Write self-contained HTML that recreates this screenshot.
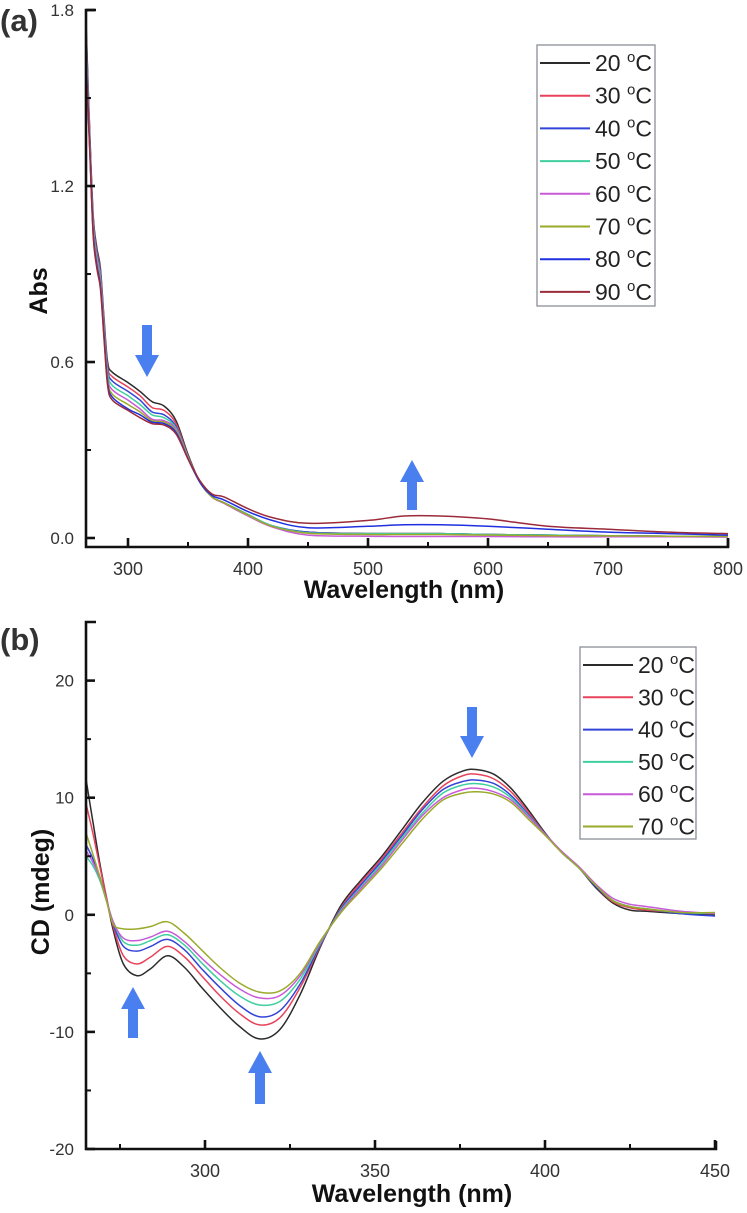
<!DOCTYPE html>
<html><head><meta charset="utf-8"><style>
html,body{margin:0;padding:0;background:#fff;}
svg{display:block;font-family:"Liberation Sans",Arial,sans-serif;}
</style></head><body>
<svg id="fig" width="747" height="1213" viewBox="0 0 747 1213" xmlns="http://www.w3.org/2000/svg">
<g id="pa"></g>
<g id="pb"></g>
</svg>
<script>
// ---------- Panel (a) data ----------
const absWavelengths = [265,268,271,274,277,280,283,287,300,310,320,330,340,350,360,370,380,400,420,450,500,530,560,600,650,700,750,800];
const abs20 = [1.76,1.40,1.10,0.99,0.92,0.75,0.60,0.565,0.53,0.50,0.465,0.45,0.40,0.285,0.19,0.14,0.12,0.08,0.04,0.02,0.015,0.015,0.015,0.012,0.01,0.008,0.006,0.005];
const abs30 = [1.74,1.39,1.09,0.98,0.91,0.74,0.585,0.55,0.515,0.485,0.445,0.435,0.39,0.28,0.19,0.14,0.12,0.08,0.04,0.02,0.015,0.015,0.015,0.012,0.01,0.008,0.006,0.005];
const abs40 = [1.72,1.38,1.08,0.97,0.90,0.73,0.575,0.535,0.50,0.47,0.43,0.42,0.38,0.275,0.19,0.14,0.12,0.08,0.042,0.02,0.015,0.015,0.015,0.012,0.01,0.008,0.006,0.005];
const abs50 = [1.70,1.37,1.07,0.96,0.89,0.72,0.565,0.52,0.485,0.455,0.42,0.41,0.375,0.275,0.19,0.14,0.12,0.08,0.042,0.018,0.015,0.015,0.015,0.012,0.01,0.008,0.006,0.005];
const abs60 = [1.68,1.36,1.06,0.95,0.88,0.71,0.55,0.505,0.47,0.44,0.405,0.40,0.37,0.27,0.19,0.14,0.118,0.075,0.038,0.01,0.006,0.005,0.005,0.005,0.004,0.004,0.004,0.003];
const abs70 = [1.66,1.35,1.05,0.94,0.87,0.70,0.54,0.49,0.455,0.43,0.40,0.395,0.365,0.27,0.19,0.14,0.12,0.078,0.04,0.016,0.012,0.012,0.012,0.01,0.008,0.007,0.006,0.005];
const abs80 = [1.64,1.34,1.04,0.93,0.86,0.69,0.53,0.48,0.44,0.42,0.395,0.39,0.36,0.27,0.19,0.145,0.13,0.09,0.06,0.035,0.04,0.045,0.045,0.04,0.03,0.02,0.015,0.01];
const abs90 = [1.62,1.33,1.03,0.92,0.85,0.68,0.52,0.47,0.435,0.41,0.39,0.385,0.355,0.27,0.195,0.15,0.14,0.10,0.07,0.05,0.06,0.075,0.075,0.065,0.04,0.03,0.02,0.015];
const absSeries = [abs20,abs30,abs40,abs50,abs60,abs70,abs80,abs90];
const absLabels = ["20","30","40","50","60","70","80","90"];
const absColors = ["#2b2b2b","#e8435a","#3344d8","#3fcf9f","#c85ad8","#9aaa2a","#2030e0","#9b2b3a"];
const absYTicks = [0.0,0.6,1.2,1.8];
const absYTickLabels = ["0.0","0.6","1.2","1.8"];
const absYMinor = [0.3,0.9,1.5];
const absXTicks = [300,400,500,600,700,800];
const absXMinor = [350,450,550,650,750];

// ---------- Panel (b) data ----------
const cdWavelengths = [265,267,269,271,273,276,280,284,289,294,299,304,310,316,322,328,334,340,346,352,358,364,370,376,380,385,390,395,400,405,410,415,420,425,430,440,450];
const cd20 = [11.6,8.0,4.5,1.5,-1.3,-4.2,-5.2,-4.6,-3.5,-4.5,-6.2,-7.8,-9.5,-10.6,-9.8,-6.8,-2.7,0.8,3.0,5.0,7.3,9.6,11.4,12.3,12.4,12.0,10.8,9.0,7.0,5.3,4.0,2.3,1.0,0.4,0.3,0.1,0.0];
const cd30 = [9.5,7.0,4.2,1.5,-1.0,-3.5,-4.2,-3.6,-2.7,-3.6,-5.2,-6.8,-8.4,-9.4,-8.8,-6.2,-2.6,0.6,2.8,4.8,7.0,9.2,11.0,11.9,12.0,11.6,10.5,8.8,6.9,5.3,4.0,2.4,1.1,0.6,0.4,0.2,0.1];
const cd40 = [6.0,4.8,3.3,1.3,-0.8,-2.7,-3.1,-2.7,-2.1,-3.0,-4.6,-6.1,-7.7,-8.7,-8.2,-5.9,-2.5,0.5,2.6,4.6,6.8,9.0,10.7,11.4,11.5,11.2,10.2,8.6,6.9,5.3,4.0,2.4,1.2,0.7,0.5,0.1,-0.1];
const cd50 = [5.0,4.2,3.0,1.2,-0.6,-2.3,-2.6,-2.2,-1.7,-2.6,-4.1,-5.5,-6.9,-7.7,-7.4,-5.5,-2.4,0.4,2.4,4.4,6.6,8.7,10.4,11.1,11.2,10.9,10.0,8.5,6.9,5.3,4.0,2.5,1.2,0.7,0.5,0.2,0.1];
const cd60 = [5.5,4.5,3.2,1.3,-0.6,-2.0,-2.2,-1.9,-1.4,-2.3,-3.7,-5.0,-6.3,-7.1,-6.9,-5.2,-2.3,0.3,2.3,4.2,6.4,8.5,10.0,10.7,10.8,10.5,9.8,8.4,6.9,5.4,4.1,2.6,1.4,0.9,0.7,0.3,0.1];
const cd70 = [7.0,5.2,3.3,1.2,-0.8,-1.2,-1.2,-1.0,-0.6,-1.6,-3.0,-4.4,-5.8,-6.6,-6.5,-5.0,-2.2,0.2,2.1,4.0,6.1,8.2,9.8,10.4,10.5,10.3,9.6,8.2,6.8,5.3,4.0,2.5,1.2,0.7,0.5,0.2,0.2];
const cdSeries = [cd20,cd30,cd40,cd50,cd60,cd70];
const cdLabels = ["20","30","40","50","60","70"];
const cdColors = ["#2b2b2b","#e8435a","#3344d8","#3fcf9f","#c85ad8","#9aaa2a"];
const cdYTicks = [-20,-10,0,10,20];
const cdYMinor = [-15,-5,5,15];
const cdXTicks = [300,350,400,450];
const cdXMinor = [275,325,375,425];

const NS = "http://www.w3.org/2000/svg";
function mk(parent, tag, attrs, text){
  const e = document.createElementNS(NS, tag);
  for (const k in attrs) e.setAttribute(k, attrs[k]);
  if (text !== undefined) e.textContent = text;
  parent.appendChild(e);
  return e;
}
function smoothPath(pts){
  let d = "M" + pts[0][0].toFixed(1) + "," + pts[0][1].toFixed(1);
  for (let i = 0; i < pts.length - 1; i++){
    const p0 = pts[Math.max(0,i-1)], p1 = pts[i], p2 = pts[i+1], p3 = pts[Math.min(pts.length-1,i+2)];
    const c1x = p1[0] + (p2[0]-p0[0])/6, c1y = p1[1] + (p2[1]-p0[1])/6;
    const c2x = p2[0] - (p3[0]-p1[0])/6, c2y = p2[1] - (p3[1]-p1[1])/6;
    d += " C" + c1x.toFixed(1)+","+c1y.toFixed(1)+" "+c2x.toFixed(1)+","+c2y.toFixed(1)+" "+p2[0].toFixed(1)+","+p2[1].toFixed(1);
  }
  return d;
}
function arrow(g, cx, yTop, yBot, dir, name){
  const hw = 12, sw = 5, hh = 22;
  let pts;
  if (dir === "down") pts = [[cx-sw,yTop],[cx+sw,yTop],[cx+sw,yBot-hh],[cx+hw,yBot-hh],[cx,yBot],[cx-hw,yBot-hh],[cx-sw,yBot-hh]];
  else pts = [[cx-sw,yBot],[cx+sw,yBot],[cx+sw,yTop+hh],[cx+hw,yTop+hh],[cx,yTop],[cx-hw,yTop+hh],[cx-sw,yTop+hh]];
  const p = mk(g, "polygon", {points: pts.map(q=>q.join(",")).join(" "), fill:"#4a7ff0"});
  
  
}
function legend(g, x0, y0, w, h, rowY0, rowStep, labels, colors, name){
  const lg = mk(g, "g", {});
  
  
  mk(lg, "rect", {x:x0, y:y0, width:w, height:h, fill:"#fff", stroke:"#8a8f94", "stroke-width":1.3});
  labels.forEach((lab, i) => {
    const y = rowY0 + i*rowStep;
    const entry = mk(lg, "g", {});
    
    
    mk(entry, "line", {x1:x0+3, x2:x0+53, y1:y, y2:y, stroke:colors[i], "stroke-width":2});
    const t = mk(entry, "text", {x:x0+58, y:y+8, "font-size":23, fill:"#222"});
    t.appendChild(document.createTextNode(lab + " "));
    mk(t, "tspan", {"font-size":15, dy:-9}, "o");
    mk(t, "tspan", {dy:9}, "C");
  });
}
function drawPanel(cfg){
  const g = document.getElementById(cfg.gid);
  const X = v => cfg.x0 + (v - cfg.xmin) * cfg.xs;
  const Y = v => cfg.yZero - v * cfg.ys;
  cfg.series.forEach((arr, i) => {
    const pts = arr.map((v, j) => [X(cfg.wl[j]), Y(v)]);
    const p = mk(g, "path", {d: smoothPath(pts), fill:"none", stroke:cfg.colors[i], "stroke-width":1.5});
    
    
  });
  const ax = mk(g, "g", {stroke:"#111", "stroke-width":2.6, fill:"none"});
  
  
  mk(ax, "path", {d:"M"+(cfg.x0+10)+","+cfg.yTop+" H"+cfg.x0+" V"+cfg.yAxis+" H"+cfg.xEnd+" V"+(cfg.yAxis-8)});
  cfg.yTicks.forEach(v => mk(ax, "line", {x1:cfg.x0, x2:cfg.x0+9, y1:Y(v), y2:Y(v)}));
  cfg.yMinor.forEach(v => mk(ax, "line", {x1:cfg.x0, x2:cfg.x0+5, y1:Y(v), y2:Y(v), "stroke-width":2}));
  cfg.xTicks.forEach(v => mk(ax, "line", {x1:X(v), x2:X(v), y1:cfg.yAxis, y2:cfg.yAxis-9}));
  cfg.xMinor.forEach(v => mk(ax, "line", {x1:X(v), x2:X(v), y1:cfg.yAxis, y2:cfg.yAxis-5, "stroke-width":2}));
  cfg.yTicks.forEach((v, i) => {
    const t = mk(g, "text", {x:cfg.x0-12, y:Y(v)+6, "font-size":17, "text-anchor":"end", fill:"#333"}, cfg.yTickLabels[i]);
    
    
  });
  cfg.xTicks.forEach(v => {
    const t = mk(g, "text", {x:X(v), y:cfg.yAxis+28, "font-size":18, "text-anchor":"middle", fill:"#333"}, String(v));
    
    
  });
  return {X, Y};
}
drawPanel({gid:"pa", wl:absWavelengths, series:absSeries, colors:absColors, labels:absLabels,
  x0:86, xmin:265, xs:1.2, yZero:538, ys:293.3, yTop:10, yAxis:547, xEnd:728,
  yTicks:absYTicks, yTickLabels:absYTickLabels, yMinor:absYMinor, xTicks:absXTicks, xMinor:absXMinor});
drawPanel({gid:"pb", wl:cdWavelengths, series:cdSeries, colors:cdColors, labels:cdLabels,
  x0:86, xmin:265, xs:3.4, yZero:914.8, ys:11.71, yTop:622, yAxis:1149, xEnd:716,
  yTicks:cdYTicks, yTickLabels:cdYTicks.map(String), yMinor:cdYMinor, xTicks:cdXTicks, xMinor:cdXMinor});

const ga = document.getElementById("pa"), gb = document.getElementById("pb");
legend(ga, 537, 45, 118, 261, 63, 32.7, absLabels, absColors, "legend-abs");
legend(gb, 580, 647, 116, 192, 665, 32.3, cdLabels, cdColors, "legend-cd");
arrow(ga, 147, 325, 377, "down", "arrow-down-shoulder");
arrow(ga, 412, 460, 510, "up", "arrow-up-visible");
arrow(gb, 133, 987, 1038, "up", "arrow-up-280");
arrow(gb, 260, 1051, 1104, "up", "arrow-up-316");
arrow(gb, 472, 707, 758, "down", "arrow-down-380");

let t;
t = mk(ga, "text", {x:0, y:31, "font-size":31, "font-weight":"bold", fill:"#333"}, "(a)");
 
t = mk(gb, "text", {x:0, y:650, "font-size":31, "font-weight":"bold", fill:"#333"}, "(b)");
 
t = mk(ga, "text", {x:404, y:598, "font-size":25, "font-weight":"bold", "text-anchor":"middle", fill:"#111"}, "Wavelength (nm)");
 
t = mk(gb, "text", {x:412, y:1202, "font-size":25, "font-weight":"bold", "text-anchor":"middle", fill:"#111"}, "Wavelength (nm)");
 
t = mk(ga, "text", {x:0, y:0, "font-size":25, "font-weight":"bold", "text-anchor":"middle", fill:"#111", transform:"translate(47,291) rotate(-90)"}, "Abs");
 
t = mk(gb, "text", {x:0, y:0, "font-size":25, "font-weight":"bold", "text-anchor":"middle", fill:"#111", transform:"translate(49,892) rotate(-90)"}, "CD (mdeg)");
 
</script>
</body></html>
